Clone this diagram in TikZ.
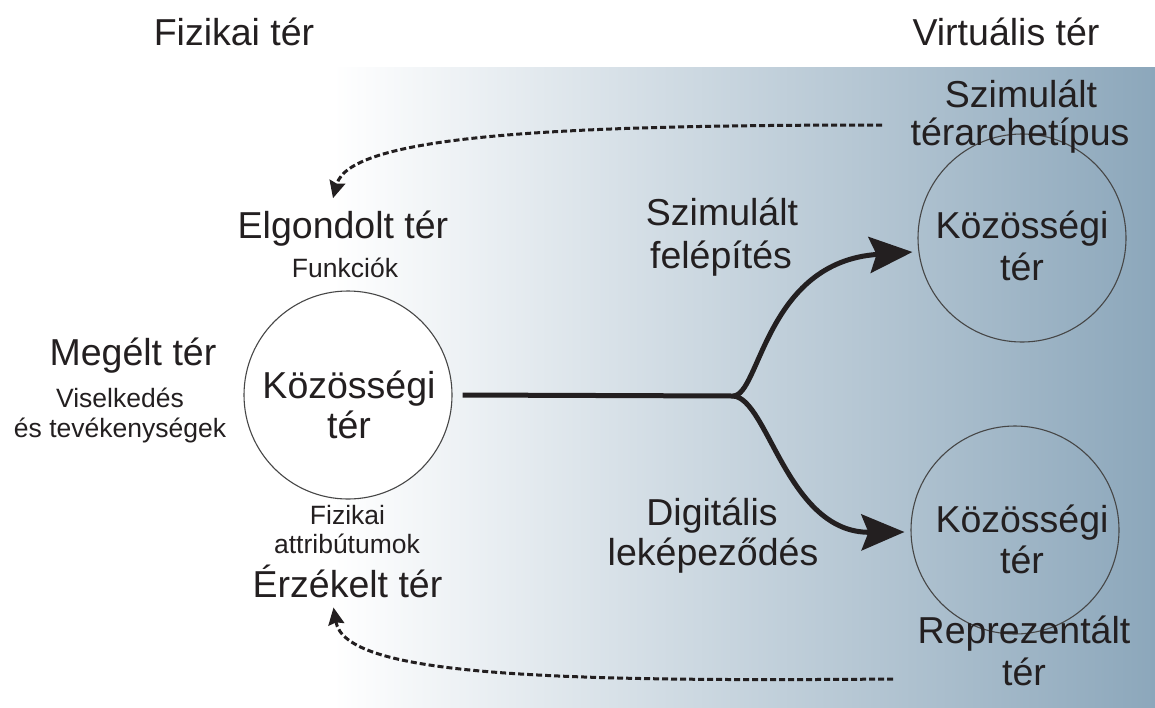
\documentclass[tikz,border=0pt]{standalone}
\usepackage{fontspec}
\setmainfont{Liberation Sans}
\usetikzlibrary{arrows.meta,calc}
\definecolor{ink}{RGB}{35,31,32}
\definecolor{virt}{RGB}{140,167,187}
\definecolor{rim}{RGB}{70,70,70}
\begin{document}
\begin{tikzpicture}[x=1pt,y=-1pt,
  big/.style={font=\fontsize{37.5}{42}\selectfont, text=ink, inner sep=0pt, anchor=base},
  small/.style={font=\fontsize{26.5}{30}\selectfont, text=ink, inner sep=0pt, anchor=base},
  space/.style={circle, draw=rim, line width=1.1pt, minimum size=208pt, inner sep=0pt},
  flow/.style={line width=5pt, draw=ink, -{Stealth[length=43pt,width=36pt,inset=7pt]}},
  link/.style={line width=3pt, draw=ink, dash pattern=on 6pt off 3pt,
               -{Stealth[length=17pt,width=16pt,inset=2pt]}}]
\useasboundingbox (0,0) rectangle (1155,707);

% virtual side: white to steel-blue fade
\shade[left color=white, right color=virt] (333,67) rectangle (1155,707);

% the three community spaces
\node[space, fill=white] (c1) at (348,395) {};
\node[space] (c2) at (1022,238) {};
\node[space] (c3) at (1015,530) {};

% column headings
\node[big] (hphys) at (234,45) {Fizikai tér};
\node[big] (hvirt) at (1006,45) {Virtuális tér};

% physical side labels
\node[big] (elg) at (343,238) {Elgondolt tér};
\node[small] (funk) at (345,277) {Funkciók};
\node[big] (meg) at (133,365) {Megélt tér};
\node[small] (visa) at (120,407) {Viselkedés};
\node[small] (visb) at (120,437) {és tevékenységek};
\node[big] (c1a) at (349,398) {Közösségi};
\node[big] (c1b) at (349,438) {tér};
\node[small] (fiza) at (347.5,524) {Fizikai};
\node[small] (fizb) at (347,553) {attribútumok};
\node[big] (erz) at (347.5,597) {Érzékelt tér};

% transitions
\node[big] (sima) at (722,225) {Szimulált};
\node[big] (simb) at (721,268) {felépítés};
\node[big] (diga) at (712,525) {Digitális};
\node[big] (digb) at (713,565) {leképeződés};

% virtual side labels
\node[big] (arca) at (1021,107) {Szimulált};
\node[big] (arcb) at (1020,145) {térarchetípus};
\node[big] (c2a) at (1022,238) {Közösségi};
\node[big] (c2b) at (1022,280) {tér};
\node[big] (c3a) at (1022,532) {Közösségi};
\node[big] (c3b) at (1022,573) {tér};
\node[big] (repa) at (1024,643) {Reprezentált};
\node[big] (repb) at (1024,685) {tér};

% forked flow from the physical to the virtual spaces
\coordinate (fork) at (733,396);
\draw[line width=5pt, ink] ([xshift=10pt]c1.east) -- (fork);
\draw[flow] (fork) .. controls (760,396) and (765,262) .. ($(c2.west)+(-5,14)$);
\draw[flow] (fork) .. controls (768,398) and (787,533) .. ($(c3.west)+(-6,2)$);

% feedback links back to the physical space
\coordinate (archlink) at (882,125);
\coordinate (replink) at (893,679);
\draw[link] (archlink) .. controls (560,125) and (350,135) .. ($(elg.north)+(-10,-12)$);
\draw[link] (replink) .. controls (540,682) and (345,675) .. ($(erz.south)+(-14,10)$);
\end{tikzpicture}
\end{document}
